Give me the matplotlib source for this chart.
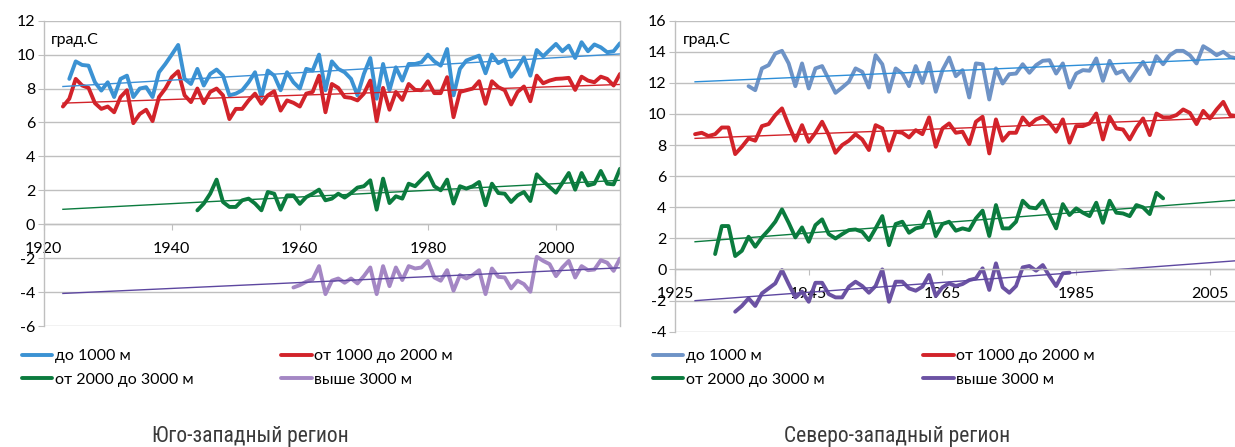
import numpy as np
import matplotlib
matplotlib.use("Agg")
import matplotlib.pyplot as plt
from matplotlib import font_manager

plt.rcParams["font.family"] = ["Lato", "DejaVu Sans"]
plt.rcParams["axes.unicode_minus"] = False

# ----------------------------
# South-west region (start year + yearly values)
# ----------------------------
sw_low_start = 1924
sw_low = [8.57, 9.6, 9.39, 9.35, 8.37, 7.88, 8.37, 7.5, 8.57, 8.76,
          7.5, 8.0, 8.08, 7.5, 8.96, 9.45, 10.0, 10.57, 8.57, 8.27,
          9.16, 8.18, 8.86, 9.12, 8.76, 7.6, 7.7, 7.9, 8.37, 8.96,
          7.5, 9.06, 8.76, 7.9, 8.96, 8.37, 8.0, 9.16, 9.06, 10.0,
          7.9, 9.6, 9.16, 8.96, 8.57, 7.6, 8.86, 9.8, 7.4, 9.45,
          7.9, 9.25, 8.47, 9.45, 9.45, 9.55, 10.0, 9.6, 9.35, 10.33,
          7.6, 9.16, 9.65, 9.8, 9.94, 8.9, 10.0, 9.5, 9.7, 8.7,
          9.2, 9.84, 8.76, 10.27, 9.9, 10.27, 10.63, 10.2, 10.53, 9.8,
          10.73, 10.2, 10.6, 10.43, 10.14, 10.2, 10.67]

sw_mid_start = 1923
sw_mid = [6.94, 7.4, 8.57, 8.18, 8.04, 7.14, 6.8, 6.94, 6.6, 7.5,
          7.9, 5.96, 6.5, 6.75, 6.08, 7.5, 8.0, 8.67, 9.02, 7.6,
          7.2, 8.0, 7.14, 7.8, 8.0, 7.6, 6.2, 6.8, 6.8, 7.3,
          7.7, 7.1, 7.6, 7.84, 6.7, 7.3, 7.16, 6.94, 7.7, 7.8,
          8.76, 6.6, 8.27, 8.04, 7.5, 7.45, 7.3, 7.7, 8.47, 6.08,
          8.04, 6.75, 7.8, 7.33, 8.27, 7.92, 7.9, 8.43, 7.73, 7.73,
          8.67, 6.31, 7.8, 7.9, 8.0, 8.43, 7.1, 8.43, 8.08, 7.9,
          7.06, 7.8, 8.12, 7.25, 8.76, 8.31, 8.47, 8.57, 8.59, 8.63,
          7.92, 8.7, 8.47, 8.37, 8.7, 8.57, 8.18, 8.86]

sw_high_start = 1944
sw_high = [0.82, 1.22, 1.8, 2.63, 1.31, 1.02, 1.02, 1.41, 1.51, 1.22,
           0.82, 1.9, 1.8, 0.86, 1.7, 1.7, 1.2, 1.6, 1.8, 2.04,
           1.41, 1.51, 1.8, 1.57, 1.84, 2.16, 2.24, 2.59, 0.86, 2.69,
           1.25, 1.65, 1.51, 2.39, 2.24, 2.63, 3.02, 2.24, 2.0, 2.63,
           1.22, 2.24, 2.1, 2.24, 2.49, 1.12, 2.39, 1.84, 1.8, 1.31,
           1.7, 1.9, 1.37, 2.94, 2.55, 2.2, 1.86, 2.43, 3.02, 2.04,
           3.02, 2.29, 2.39, 3.14, 2.39, 2.35, 3.27]

sw_top_start = 1959
sw_top = [-3.73, -3.59, -3.39, -3.25, -2.47,
          -4.12, -3.33, -3.2, -3.45, -3.2, -3.49, -3.06, -2.55, -4.12, -2.47,
          -3.65, -2.55, -3.29, -2.47, -2.61, -2.55, -2.16, -3.14, -3.33, -2.71,
          -3.92, -3.0, -3.2, -3.0, -2.71, -4.12, -2.61, -3.1, -3.14, -3.78,
          -3.33, -3.53, -3.98, -1.92, -2.16, -2.35, -3.06, -2.55, -2.16, -3.14,
          -2.47, -2.71, -2.67, -2.12, -2.27, -2.75, -2.02]

# linear trends: value at first and last year
sw_trend_years = [1923, 2010]
sw_trend_low = [8.12, 10.04]
sw_trend_mid = [7.14, 8.24]
sw_trend_high = [0.88, 2.59]
sw_trend_top = [-4.08, -2.57]

# ----------------------------
# North-west region
# ----------------------------
nw_low_start = 1936
nw_low = [11.79, 11.53, 12.93, 13.14, 13.89, 14.06, 13.25, 11.79, 13.25, 11.64,
          12.93, 13.08, 12.22, 11.36, 11.7, 12.07, 12.93, 12.71, 11.7, 13.78,
          13.2, 11.43, 12.93, 12.6, 11.79, 13.08, 12.0, 13.29, 11.43,
          12.82, 13.63, 12.43, 12.82, 11.06, 13.25, 13.2, 10.93, 12.93, 11.96,
          12.56, 12.6, 13.2, 12.65, 13.14, 13.42, 13.46, 12.6, 13.25, 11.7,
          12.6, 12.82, 12.78, 13.57, 12.13, 13.42, 12.6, 12.78, 12.13, 12.78,
          13.35, 12.56, 13.72, 13.2, 13.78, 14.06, 14.06, 13.78, 13.25, 14.36,
          14.1, 13.78, 14.0, 13.67, 13.57]

nw_mid_start = 1928
nw_mid = [8.7, 8.79, 8.58, 8.7, 9.13, 9.13, 7.42, 7.89, 8.43, 8.28,
          9.22, 9.35, 9.93, 10.36, 9.28, 8.28, 9.28, 8.21, 8.79, 9.5,
          8.64, 7.5, 8.0, 8.28, 8.7, 8.36, 7.68, 9.28, 9.07, 7.64,
          8.86, 8.79, 8.49, 8.96, 8.7, 9.78, 7.89,
          9.07, 9.39, 8.79, 8.86, 8.06, 9.5, 9.82, 7.46, 9.65, 8.28,
          8.79, 8.79, 9.78, 9.28, 9.65, 9.82, 9.43, 8.86, 9.65, 8.15,
          9.22, 9.22, 9.39, 10.03, 8.36, 9.82, 9.07, 9.0, 8.36, 9.13,
          9.71, 8.64, 10.03, 9.78, 9.78, 9.93, 10.29, 10.07, 9.35, 10.2,
          9.71, 10.29, 10.78, 9.93, 9.86]

nw_high_start = 1931
nw_high = [0.99, 2.79, 2.79, 0.86, 1.2, 2.1, 1.46, 2.06, 2.53, 3.07,
           3.86, 3.0, 2.06, 2.7, 1.78, 2.85, 3.22, 2.27, 1.99, 2.27,
           2.53, 2.57, 2.42, 1.89, 2.64, 3.43, 1.56, 2.92, 3.07, 2.36,
           2.64, 2.74, 3.71, 2.14,
           2.92, 3.07, 2.49, 2.64, 2.53, 3.28, 3.78, 2.15, 4.14, 2.64,
           2.64, 3.07, 4.42, 3.99, 3.93, 4.42, 3.5, 2.64, 4.2, 3.5,
           3.93, 3.65, 3.43, 4.29, 3.0, 4.42, 3.65, 3.6, 3.43, 4.14,
           3.99, 3.56, 4.93, 4.57]

nw_top_start = 1934
nw_top = [-2.72, -2.35, -1.86, -2.35, -1.54, -1.22, -0.9, -0.04, -0.94, -1.8,
          -1.43, -2.08, -0.86, -0.86, -1.59, -1.8, -1.8, -1.11, -0.79, -1.07,
          -1.5, -1.07, 0.0, -2.08, -0.79, -0.79, -1.22, -1.37, -1.11, -0.36,
          -1.71, -1.15, -0.9, -1.07, -0.94, -0.69, -0.58, 0.07, -1.32, 0.39,
          -1.15, -1.5, -1.07, 0.13, 0.22, -0.08, 0.28, -0.43, -1.07, -0.25,
          -0.21]

nw_trend_years = [1928, 2009]
nw_trend_low = [12.07, 13.57]
nw_trend_mid = [8.43, 9.78]
nw_trend_high = [1.78, 4.46]
nw_trend_top = [-2.01, 0.56]

labels = ["до 1000 м", "от 1000 до 2000 м", "от 2000 до 3000 м", "выше 3000 м"]

GRID = "#bfbfbf"
RED = "#d2232a"
GREEN = "#0b7b3e"


def years(start, values):
    return start + np.arange(len(values))


def narrow_font():
    # pick a condensed face for the captions if one is installed
    fonts = font_manager.fontManager.ttflist
    names = {f.name for f in fonts}
    for name in ("Liberation Sans Narrow", "Roboto Condensed",
                 "Open Sans Condensed", "Noto Sans Display"):
        if name in names:
            return dict(family=name, fontstretch="condensed")
    for f in fonts:
        if f.name == "DejaVu Sans" and f.stretch == "condensed":
            return dict(family="DejaVu Sans", fontstretch="condensed")
    return None


def style_axes(ax, xlim, ylim, xticks):
    ax.set_xlim(*xlim)
    ax.set_ylim(*ylim)
    ax.set_yticks(np.arange(ylim[0], ylim[1] + 1, 2))
    ax.set_xticks(xticks)
    ax.grid(axis="y", color=GRID, lw=1.0)
    ax.set_axisbelow(True)
    ax.spines["bottom"].set_position(("data", 0))
    ax.spines["top"].set_visible(False)
    for s in ("left", "bottom", "right"):
        ax.spines[s].set_color(GRID)
        ax.spines[s].set_linewidth(1.0)
    ax.tick_params(axis="y", length=4, color=GRID, pad=2, labelsize=11.5)
    ax.tick_params(axis="x", length=4, color=GRID, pad=9, labelsize=11.5)
    ax.set_facecolor("white")


def draw(ax, series, trend_years, trends, colors, trend_colors):
    handles = []
    for (start, vals), c in zip(series, colors):
        h, = ax.plot(years(start, vals), vals, color=c, lw=2.8,
                     solid_joinstyle="round", solid_capstyle="round")
        handles.append(h)
    for tr, c in zip(trends, trend_colors):
        ax.plot(trend_years, tr, color=c, lw=1.0)
    return handles


fig = plt.figure(figsize=(12.35, 4.47), dpi=100)

# left chart
ax1 = fig.add_axes([43.7 / 1235, 121 / 447, 576.3 / 1235, 305.3 / 447])
style_axes(ax1, (1920, 2010), (-6, 12), [1920, 1940, 1960, 1980, 2000])
h1 = draw(ax1,
          [(sw_low_start, sw_low), (sw_mid_start, sw_mid),
           (sw_high_start, sw_high), (sw_top_start, sw_top)],
          sw_trend_years,
          [sw_trend_low, sw_trend_mid, sw_trend_high, sw_trend_top],
          ["#3b92d3", RED, GREEN, "#a487c4"],
          ["#3b8fd6", RED, GREEN, "#5d47a0"])
ax1.text(0.013, 0.937, "град.С", transform=ax1.transAxes, fontsize=11.5,
         va="center", ha="left")

# right chart
ax2 = fig.add_axes([675 / 1235, 115.4 / 447, 560 / 1235, 310.9 / 447])
style_axes(ax2, (1925, 2008.75), (-4, 16), [1925, 1945, 1965, 1985, 2005])
ax2.spines["right"].set_visible(False)
h2 = draw(ax2,
          [(nw_low_start, nw_low), (nw_mid_start, nw_mid),
           (nw_high_start, nw_high), (nw_top_start, nw_top)],
          nw_trend_years,
          [nw_trend_low, nw_trend_mid, nw_trend_high, nw_trend_top],
          ["#6e93c6", RED, GREEN, "#6b52a3"],
          ["#2d8ed8", RED, GREEN, "#5d47a0"])
ax2.text(0.014, 0.938, "град.С", transform=ax2.transAxes, fontsize=11.5,
         va="center", ha="left")

# legends under each chart (row-wise order: 1, 2 / 3, 4)
for handles, x0, colsp in ((h1, 22 / 1235, 5.5), (h2, 653 / 1235, 6.2)):
    order = [handles[0], handles[2], handles[1], handles[3]]
    order_labels = [labels[0], labels[2], labels[1], labels[3]]
    fig.legend(order, order_labels, ncol=2, loc="upper left",
               bbox_to_anchor=(x0, 98 / 447), frameon=False,
               fontsize=11.5, handlelength=1.9, handletextpad=0.15,
               columnspacing=colsp, labelspacing=0.6, borderpad=0,
               borderaxespad=0)

nf = narrow_font()
if nf is not None:
    title_kw = dict(fontsize=15.5, **nf)
else:
    title_kw = dict(fontsize=13.5, family="DejaVu Sans")
fig.text(250 / 1235, 5 / 447, "Юго-западный регион", ha="center",
         va="baseline", color="#3a3a3a", **title_kw)
fig.text(897 / 1235, 5 / 447, "Северо-западный регион", ha="center",
         va="baseline", color="#3a3a3a", **title_kw)

fig.savefig("out.png", dpi=100)
